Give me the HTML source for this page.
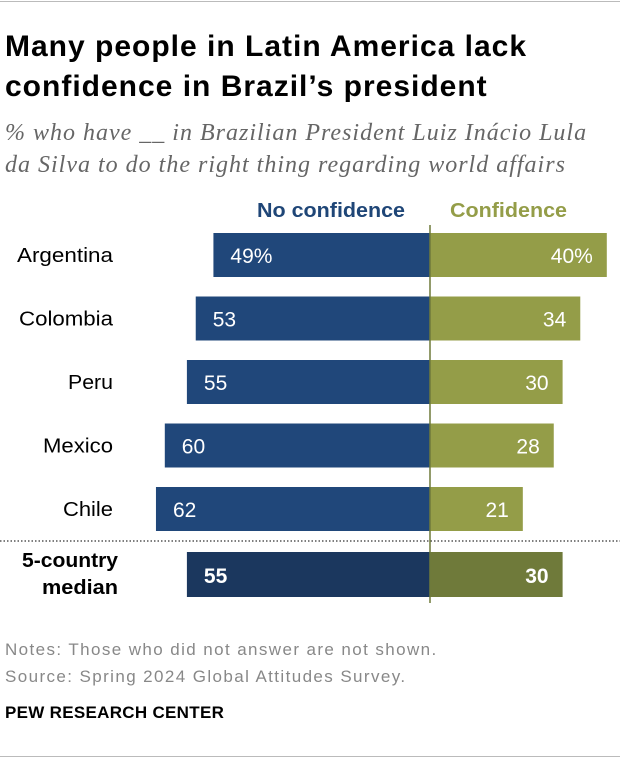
<!DOCTYPE html>
<html><head><meta charset="utf-8"><style>
body{margin:0;width:620px;height:760px;background:#fff;position:relative;font-family:"Liberation Sans",sans-serif;overflow:hidden}
.t{position:absolute;white-space:nowrap}
</style></head><body>
<div style="position:absolute;left:0;top:1px;width:620px;height:1px;background:#bbb"></div>
<div class="t" style="left:5px;top:27px;font-size:30px;letter-spacing:1px;font-weight:bold;line-height:40px;color:#000">Many people in Latin America lack<br>confidence in Brazil’s president</div>
<div class="t" style="left:5px;top:117px;font-family:'Liberation Serif',serif;font-style:italic;font-size:24px;letter-spacing:1px;line-height:32px;color:#666">% who have __ in Brazilian President Luiz Inácio Lula<br>da Silva to do the right thing regarding world affairs</div>
<svg id="chart" style="position:absolute;left:0;top:0;font-family:'Liberation Sans',sans-serif" width="620" height="640"></svg>
<div class="t" style="left:5px;top:636px;font-size:17px;letter-spacing:1.4px;line-height:27px;color:#888">Notes: Those who did not answer are not shown.<br>Source: Spring 2024 Global Attitudes Survey.</div>
<div class="t" style="left:5px;top:703px;font-size:17px;letter-spacing:0.3px;font-weight:bold;color:#000">PEW RESEARCH CENTER</div>
<div style="position:absolute;left:0;top:756px;width:620px;height:1px;background:#bbb"></div>
<script>
const categories=["Argentina","Colombia","Peru","Mexico","Chile"];
const noConfidence=[49,53,55,60,62];
const confidence=[40,34,30,28,21];
const medianNo=55;
const medianYes=30;
const labelWidths=[96,94,45,70,50];
const svg=document.getElementById('chart');
const NS='http://www.w3.org/2000/svg';
const cx=430, k=4.42;
const x=v=>v*k;
function mk(tag,attrs,name,txt){const e=document.createElementNS(NS,tag);for(const a in attrs)e.setAttribute(a,attrs[a]);


if(txt!==undefined)e.textContent=txt;svg.appendChild(e);return e;}
mk('text',{x:257,y:217,textLength:148,lengthAdjust:'spacingAndGlyphs','font-size':20,'font-weight':'bold',fill:'#1f4677'},'legend-no-confidence','No confidence');
mk('text',{x:450,y:217,textLength:117,lengthAdjust:'spacingAndGlyphs','font-size':20,'font-weight':'bold',fill:'#949d48'},'legend-confidence','Confidence');
const rowY=i=>233+i*63.5;
categories.forEach((c,i)=>{
 const y=rowY(i);
 mk('rect',{x:cx-x(noConfidence[i]),y:y,width:x(noConfidence[i]),height:44,fill:'#20477a'},'bar-no-'+c.toLowerCase());
 mk('rect',{x:cx,y:y,width:x(confidence[i]),height:44,fill:'#949d48'},'bar-yes-'+c.toLowerCase());
 mk('text',{x:113-labelWidths[i],y:y+29,textLength:labelWidths[i],lengthAdjust:'spacingAndGlyphs','font-size':20,fill:'#000'},'label-'+c.toLowerCase(),c);
 mk('text',{x:cx-x(noConfidence[i])+17,y:y+30,'font-size':21,fill:'#fff'},'value-no-'+c.toLowerCase(),noConfidence[i]+(i==0?'%':''));
 mk('text',{x:cx+x(confidence[i])-14,y:y+30,'text-anchor':'end','font-size':21,fill:'#fff'},'value-yes-'+c.toLowerCase(),confidence[i]+(i==0?'%':''));
});
mk('line',{x1:0,x2:620,y1:541,y2:541,stroke:'#333','stroke-width':1.3,'stroke-dasharray':'1.5,2'},'median-divider');
const my=552;
mk('rect',{x:cx-x(medianNo),y:my,width:x(medianNo),height:45,fill:'#1b375e'},'bar-median-no');
mk('rect',{x:cx,y:my,width:x(medianYes),height:45,fill:'#6f7a3a'},'bar-median-yes');
mk('text',{x:cx-x(medianNo)+17,y:my+31,'font-size':21,'font-weight':'bold',fill:'#fff'},'value-median-no',medianNo);
mk('text',{x:cx+x(medianYes)-14,y:my+31,'text-anchor':'end','font-size':21,'font-weight':'bold',fill:'#fff'},'value-median-yes',medianYes);
mk('text',{x:22,y:567,textLength:96,lengthAdjust:'spacingAndGlyphs','font-size':20,'font-weight':'bold',fill:'#000'},'label-median-1','5-country');
mk('text',{x:42,y:594,textLength:76,lengthAdjust:'spacingAndGlyphs','font-size':20,'font-weight':'bold',fill:'#000'},'label-median-2','median');
mk('line',{x1:cx,x2:cx,y1:225,y2:603,stroke:'#6f7a3a','stroke-width':1.5},'center-axis');
</script>
</body></html>
